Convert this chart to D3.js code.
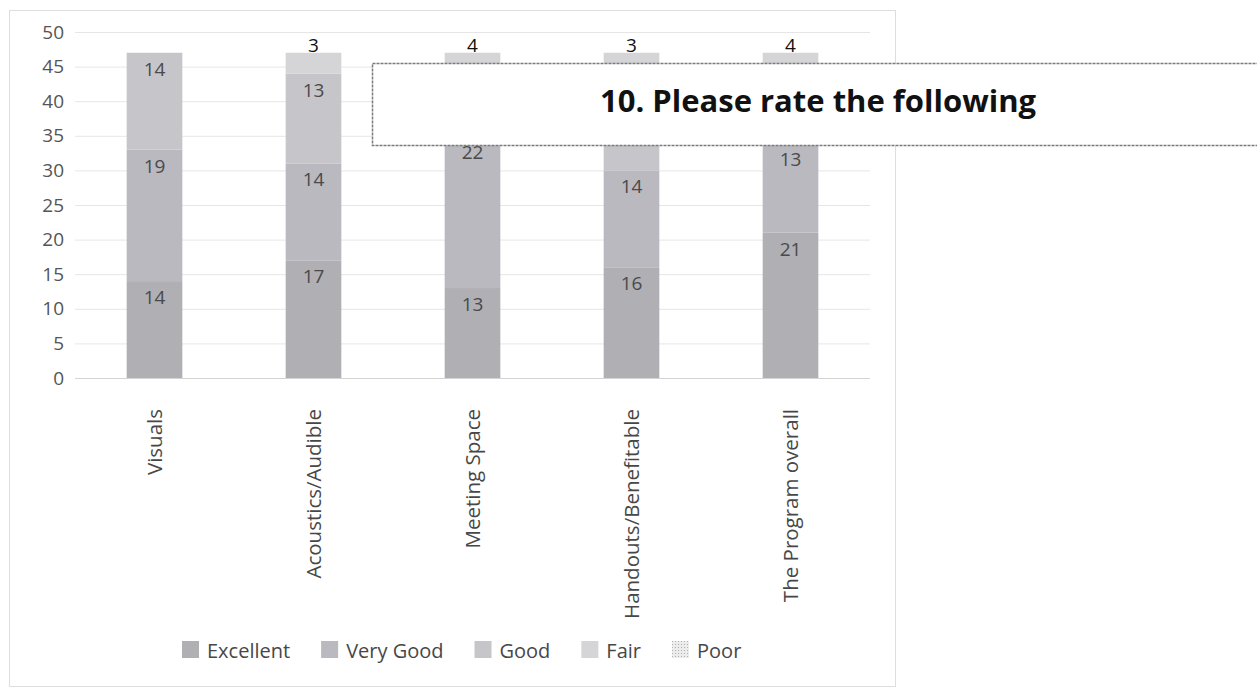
<!DOCTYPE html>
<html>
<head>
<meta charset="utf-8">
<script src="https://cdn.jsdelivr.net/npm/d3@7"></script>
<style>
  body { margin: 0; background: #fff; }
  svg { display: block; font-family: "Open Sans", "Noto Sans", sans-serif; }
</style>
</head>
<body>
<div id="chart"></div>
<script>
// Chart values
var categories = ["Visuals", "Acoustics/Audible", "Meeting Space", "Handouts/Benefitable", "The Program overall"];
var seriesNames = ["Excellent", "Very Good", "Good", "Fair", "Poor"];
var excellent = [14, 17, 13, 16, 21];
var veryGood = [19, 14, 22, 14, 13];
var good = [14, 13, 8, 14, 9];   // partly hidden behind the title box, estimated
var fair = [0, 3, 4, 3, 4];
var poor = [0, 0, 0, 0, 0];
var yTicks = [0, 5, 10, 15, 20, 25, 30, 35, 40, 45, 50];
var titleText = "10. Please rate the following";

var svgWidth = 1257;
var svgHeight = 692;

// Title box that sits over the top of the plot
var titleBox = { x: 372.5, y: 63.5, w: 900, h: 82 };

// Grey fills as they come out of the scan
var colors = {
    "Excellent": "#afafb4",
    "Very Good": "#b9b9bf",
    "Good": "#c6c6ca",
    "Fair": "#d5d5d8",
    "Poor": "url(#poorDots)"
};

// Build rows for the stack from the arrays above
var rows = categories.map(function(c, i) {
    return {
        category: c,
        "Excellent": excellent[i],
        "Very Good": veryGood[i],
        "Good": good[i],
        "Fair": fair[i],
        "Poor": poor[i]
    };
});

var svg = d3.select("#chart")
    .append("svg")
    .attr("width", svgWidth)
    .attr("height", svgHeight);

// Dotted pattern for the Poor swatch
var defs = svg.append("defs");
var pat = defs.append("pattern")
    .attr("id", "poorDots")
    .attr("width", 3)
    .attr("height", 3)
    .attr("patternUnits", "userSpaceOnUse");
pat.append("rect").attr("width", 3).attr("height", 3).attr("fill", "#ececec");
pat.append("rect").attr("width", 1).attr("height", 1).attr("fill", "#b0b0b0");

// Chart frame
svg.append("rect")
    .attr("x", 9.5)
    .attr("y", 10.5)
    .attr("width", 886)
    .attr("height", 676)
    .attr("fill", "none")
    .attr("stroke", "#dedede")
    .attr("stroke-width", 1);

// Scales
var xBand = d3.scaleBand()
    .domain(categories)
    .range([75, 870])
    .paddingInner(0.65)
    .paddingOuter(0.325);

var yLinear = d3.scaleLinear()
    .domain([0, 50])
    .range([378, 32]);

// Grid lines
svg.append("g")
    .selectAll("line")
    .data(yTicks)
    .enter()
    .append("line")
    .attr("x1", 75)
    .attr("x2", 870)
    .attr("y1", d => yLinear(d) + 0.5)
    .attr("y2", d => yLinear(d) + 0.5)
    .attr("stroke", d => d === 0 ? "#d4d4d4" : "#e6e6e6")
    .attr("stroke-width", 1);

// Y axis (labels only)
var leftAxis = d3.axisLeft(yLinear)
    .tickValues(yTicks)
    .tickSize(0)
    .tickPadding(0);
var yAxisG = svg.append("g")
    .attr("transform", "translate(64,0)")
    .call(leftAxis);
yAxisG.select(".domain").remove();
yAxisG.selectAll("text")
    .attr("font-family", "\"Open Sans\", sans-serif")
    .attr("font-size", 19)
    .attr("fill", "#555");

// Stacked bars
var stack = d3.stack().keys(seriesNames);
var layers = stack(rows);

var layerG = svg.append("g")
    .selectAll("g")
    .data(layers)
    .enter()
    .append("g")
    .attr("fill", d => colors[d.key]);

layerG.selectAll("rect")
    .data(d => d.filter(s => s[1] - s[0] > 0))
    .enter()
    .append("rect")
    .attr("x", d => xBand(d.data.category))
    .attr("width", xBand.bandwidth())
    .attr("y", d => yLinear(d[1]))
    .attr("height", d => yLinear(d[0]) - yLinear(d[1]));

// Data labels: inside end for the big segments, on top of the bar for Fair.
// Labels that would sit under the title box are covered in the picture, so skip them.
function labelY(key, d) {
    return key === "Fair" ? yLinear(d[1]) - 1 : yLinear(d[1]) + 23;
}
function hiddenByTitle(key, d) {
    var x = xBand(d.data.category) + xBand.bandwidth() / 2;
    var y = labelY(key, d);
    return x > titleBox.x && y - 14 > titleBox.y && y < titleBox.y + titleBox.h;
}
layers.forEach(function(layer) {
    svg.append("g")
        .selectAll("text")
        .data(layer.filter(s => s[1] - s[0] > 0 && !hiddenByTitle(layer.key, s)))
        .enter()
        .append("text")
        .attr("x", d => xBand(d.data.category) + xBand.bandwidth() / 2)
        .attr("y", d => labelY(layer.key, d))
        .attr("text-anchor", "middle")
        .attr("font-size", 19)
        .attr("fill", layer.key === "Fair" ? "#111" : "#4a4a4a")
        .text(d => d[1] - d[0]);
});

// Category labels, rotated
var bottomAxis = d3.axisBottom(xBand).tickSize(0).tickPadding(0);
var xAxisG = svg.append("g")
    .attr("transform", "translate(0,378)")
    .call(bottomAxis);
xAxisG.select(".domain").remove();
xAxisG.selectAll("text")
    .attr("font-family", "\"Open Sans\", sans-serif")
    .attr("font-size", 20.5)
    .attr("fill", "#474747")
    .attr("text-anchor", "end")
    .attr("dy", "0.35em")
    .attr("transform", "translate(0,31) rotate(-90)");

// Legend
var legend = svg.append("g").attr("transform", "translate(182,650)");
var lx = 0;
seriesNames.forEach(function(name) {
    var item = legend.append("g").attr("transform", "translate(" + lx + ",0)");
    item.append("rect")
        .attr("x", 0)
        .attr("y", -9)
        .attr("width", 17)
        .attr("height", 17)
        .attr("fill", colors[name]);
    var t = item.append("text")
        .attr("x", 25)
        .attr("y", 8)
        .attr("font-size", 20)
        .attr("fill", "#474747")
        .text(name);
    lx += 25 + t.node().getComputedTextLength() + 31;
});

// Title box laid over the top of the plot
svg.append("rect")
    .attr("x", titleBox.x)
    .attr("y", titleBox.y)
    .attr("width", titleBox.w)
    .attr("height", titleBox.h)
    .attr("fill", "#fff")
    .attr("stroke", "#7a7a7a")
    .attr("stroke-width", 1.5)
    .attr("stroke-dasharray", "3,1");

svg.append("text")
    .attr("x", 818)
    .attr("y", 112)
    .attr("text-anchor", "middle")
    .attr("font-size", 31)
    .attr("font-weight", "bold")
    .attr("fill", "#111")
    .text(titleText);
</script>
</body>
</html>
